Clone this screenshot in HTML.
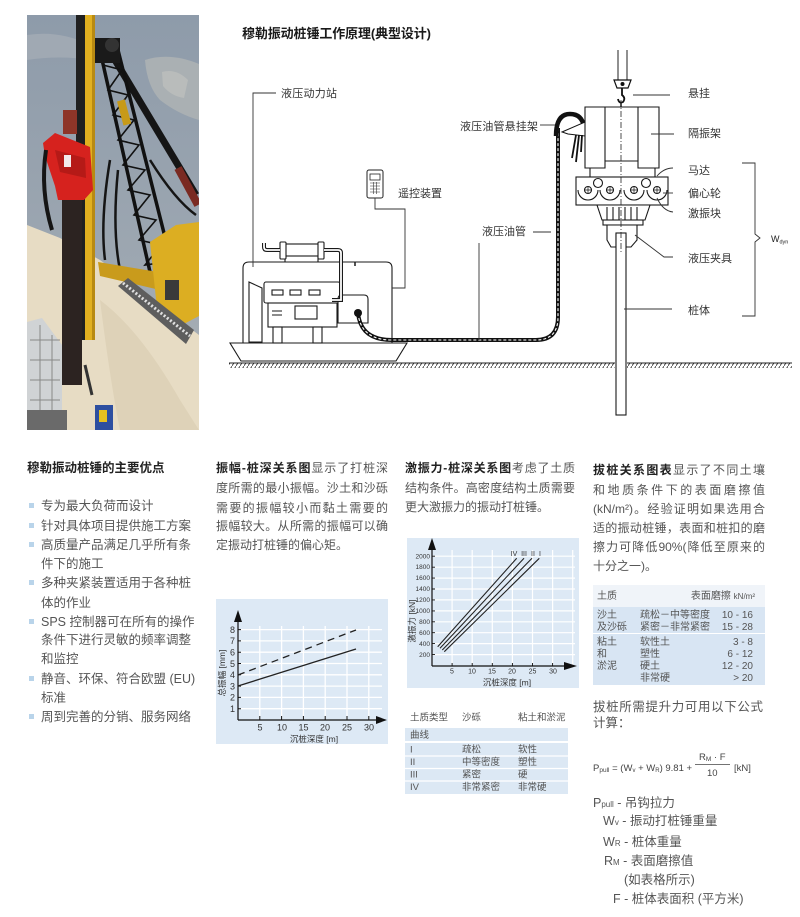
<!DOCTYPE html>
<html><head><meta charset="utf-8">
<style>
html,body{margin:0;padding:0;background:#fff;}
body{width:800px;height:917px;position:relative;overflow:hidden;font-family:"Liberation Sans","Noto Sans CJK SC",sans-serif;color:#555;}
.l{position:absolute;height:20px;line-height:20px;white-space:nowrap;}
.j{text-align:justify;text-align-last:justify;}
.p{font-size:12px;}
.b{font-size:12.5px;}
b{color:#222;}
.bul{position:absolute;width:5px;height:5px;background:#b9d4ea;left:29px;}
svg text{font-family:"Liberation Sans","Noto Sans CJK SC",sans-serif;}
</style></head><body>
<svg width="800" height="917" viewBox="0 0 800 917" style="position:absolute;left:0;top:0">
<defs>
<clipPath id="pc"><rect x="27" y="15" width="172" height="415"/></clipPath>
<linearGradient id="sky" x1="0" y1="0" x2="0" y2="1"><stop offset="0" stop-color="#8e9baa"/><stop offset="0.6" stop-color="#9da7b1"/><stop offset="1" stop-color="#aeb3b7"/></linearGradient>
<pattern id="hatch" width="4" height="6" patternUnits="userSpaceOnUse"><path d="M-1,7 L5,-1" stroke="#222" stroke-width="0.8"/></pattern>
</defs>

<!-- PHOTO -->
<g clip-path="url(#pc)">
<rect x="27" y="15" width="172" height="415" fill="url(#sky)"/>
<path d="M145,60 Q170,52 199,64 L199,120 Q178,114 160,100 Q147,86 145,60Z" fill="#aab0b3"/>
<path d="M162,72 Q176,68 188,80 L184,98 Q171,96 163,86Z" fill="#b9bcbb"/>
<path d="M27,35 Q60,30 90,45 L90,60 Q60,55 27,60Z" fill="#a0a9b3"/>
<path d="M27,225 L60,238 L100,260 L140,290 L199,335 L199,430 L27,430Z" fill="#e7dcc4"/>
<path d="M100,300 Q140,330 180,400 L199,430 L120,430 Q110,380 100,300Z" fill="#ded2b8"/>
<!-- boom backstay -->
<path d="M112,55 L196,195" stroke="#151515" stroke-width="7"/>
<path d="M178,168 L198,205" stroke="#7a2a22" stroke-width="8"/>
<!-- boom lattice -->
<path d="M101,55 L150,272 M118,50 L172,265" stroke="#111" stroke-width="3.5" fill="none"/>
<path d="M103,65 L122,70 L108,90 L128,95 L113,115 L134,120 L118,140 L139,145 L123,165 L145,170 L128,190 L150,195 L134,215 L156,220 L139,240 L161,245 L145,265 L166,262" stroke="#111" stroke-width="1.6" fill="none"/>
<rect x="95" y="38" width="25" height="25" fill="#1a1a1a"/>
<circle cx="112" cy="45" r="7" fill="#333"/>
<rect x="120" y="100" width="8" height="25" fill="#c79a18" transform="rotate(-15 124 112)"/>
<!-- hoses -->
<path d="M110,160 Q100,220 105,260 M118,170 Q112,230 120,270 M150,160 Q175,200 196,215" stroke="#151515" stroke-width="2.5" fill="none"/>
<!-- yellow crane -->
<path d="M98,262 L158,272 L160,290 L100,276Z" fill="#c99b1c"/>
<path d="M150,242 L176,225 L199,222 L199,316 L180,326 L158,318Z" fill="#dcae22"/>
<rect x="165" y="280" width="14" height="20" fill="#3a3a3a"/>
<path d="M118,286 L128,278 L194,330 L186,344Z" fill="#5e5e5e"/>
<path d="M123,283 L190,336" stroke="#e0e0e0" stroke-width="3" stroke-dasharray="2 2"/>
<!-- mast -->
<rect x="76" y="15" width="9" height="325" fill="#202020"/>
<rect x="85" y="15" width="10" height="325" fill="#e1b020"/>
<rect x="92" y="15" width="3" height="325" fill="#b88a12"/>
<!-- pile -->
<rect x="62" y="195" width="20" height="190" fill="#2c2321"/>
<!-- hammer -->
<rect x="63" y="110" width="14" height="24" fill="#8e3528"/>
<path d="M43,143 L55,133 L90,147 L93,190 L84,200 L58,200 L55,186 L45,156Z" fill="#d6221e"/>
<path d="M55,150 L85,158 L86,178 L60,172Z" fill="#b51a17"/>
<rect x="64" y="155" width="7" height="12" fill="#f3eaea"/>
<path d="M46,150 Q40,190 52,230" stroke="#151515" stroke-width="4" fill="none"/>
<!-- bottom-left structure -->
<path d="M27,322 L42,318 L62,345 L62,430 L27,430Z" fill="#d0d3d5"/>
<path d="M30,340 L60,340 M30,360 L60,360 M30,380 L60,380 M30,400 L60,400 M40,325 L40,430 M52,335 L52,430" stroke="#888" stroke-width="1"/>
<rect x="27" y="410" width="40" height="20" fill="#6a6a6a"/>
<rect x="95" y="405" width="18" height="25" fill="#2d4fa0"/>
<rect x="99" y="410" width="8" height="12" fill="#e5c020"/>
<path d="M85,365 L92,395" stroke="#333" stroke-width="3"/>
</g>

<!-- TOP DIAGRAM -->
<text x="242" y="38" font-size="13" font-weight="bold" fill="#1a1a1a" textLength="189" lengthAdjust="spacing">穆勒振动桩锤工作原理(典型设计)</text>

<!-- ground -->
<rect x="229" y="363" width="386" height="5" fill="url(#hatch)"/>
<rect x="627" y="363" width="165" height="5" fill="url(#hatch)"/>
<path d="M229,363 H615 M627,363 H792" stroke="#222" stroke-width="1"/>

<g stroke="#1a1a1a" stroke-width="1.1" fill="#fff">
<path d="M230,343 L407,343 L396,361 L241,361Z"/>
<path d="M243,343 V268 Q243,262 249,262 H386 Q392,262 392,268 V343" fill="none"/>
<path d="M285,253 V262 M318,253 V262" fill="none"/>
<rect x="285" y="244" width="34" height="12"/>
<rect x="280" y="242" width="6" height="17" rx="1"/>
<rect x="318" y="242" width="6" height="17" rx="1"/>
<path d="M249,282 L262,288 L262,342 L249,342Z"/>
<rect x="264" y="282" width="76" height="21" rx="2"/>
<rect x="272" y="290" width="11" height="5"/>
<rect x="290" y="290" width="11" height="5"/>
<rect x="309" y="290" width="11" height="5"/>
<rect x="268" y="303" width="69" height="24"/>
<rect x="295" y="306" width="22" height="13"/>
<path d="M272,311 H282 M272,315 H282" fill="none"/>
<rect x="273" y="327" width="9" height="16"/>
<rect x="313" y="327" width="9" height="16"/>
<path d="M338,323 V299 Q338,295 342,295 H364 Q368,295 368,299 V323Z"/>
</g>
<path d="M280,250 H267 Q264,250 264,247 V243" stroke="#1a1a1a" stroke-width="4" fill="none"/>
<path d="M280,250 H267 Q264,250 264,247 V243" stroke="#fff" stroke-width="1.8" fill="none"/>
<path d="M324,250 H338 Q341,250 341,253 V300 H332" stroke="#1a1a1a" stroke-width="4" fill="none"/>
<path d="M324,250 H338 Q341,250 341,253 V300 H332" stroke="#fff" stroke-width="1.8" fill="none"/>
<path d="M355,262 V266" stroke="#1a1a1a" stroke-width="1.5"/>

<!-- hose -->
<path d="M358,313 C360,332 372,340 392,340 L536,340 Q558,340 558,317 L558,128" stroke="#111" stroke-width="4" fill="none"/>
<path d="M358,313 C360,332 372,340 392,340 L536,340 Q558,340 558,317 L558,128" stroke="#fff" stroke-width="1.1" stroke-dasharray="3 2" fill="none"/>
<circle cx="358" cy="313" r="4" fill="#111"/>
<path d="M556,136 Q556,114 570,114 Q582,114 584,127" stroke="#111" stroke-width="4.5" fill="none"/>
<path d="M562,132 L585,122 L585,136 L568,134Z" fill="#fff" stroke="#111" stroke-width="1"/>
<path d="M579,135 L576,162 M582,135 L581,152 M576,135 L572,158" stroke="#111" stroke-width="1.8"/>

<!-- remote -->
<rect x="367" y="170" width="16" height="28" rx="2" fill="#fff" stroke="#222" stroke-width="1"/>
<rect x="370" y="174" width="10" height="6" fill="#fff" stroke="#222" stroke-width="0.8"/>
<path d="M370,183 H380 M370,186 H380 M370,189 H380 M370,192 H380 M373.3,182 V194 M376.6,182 V194" stroke="#333" stroke-width="0.6"/>
<path d="M375,198 V209 H405 V288 H392" stroke="#333" stroke-width="0.9" fill="none"/>

<!-- hammer -->
<path d="M618,50 V80 M627,50 V80" stroke="#222" stroke-width="1"/>
<path d="M614,80 H631 L628,88 H617Z" fill="#fff" stroke="#111" stroke-width="1.2"/>
<circle cx="622.5" cy="84" r="2" fill="#111"/>
<path d="M622,88 V95 Q626,98 623,102 Q619,104 618,99" stroke="#111" stroke-width="1.8" fill="none"/>
<path d="M621,102 L621,107" stroke="#111" stroke-width="1.5"/>
<g stroke="#1a1a1a" stroke-width="1.1" fill="#fff">
<path d="M585,107 H659 V168 H638 V161 H605 V168 H585Z"/>
<path d="M605,107 V161 M638,107 V161" fill="none"/>
<path d="M590,168 V177 M655,168 V177" fill="none"/>
<rect x="576" y="177" width="92" height="28"/>
<path d="M578,190 A10,10 0 0 0 598,190 M600,190 A10,10 0 0 0 620,190 M624,190 A10,10 0 0 0 644,190 M647,190 A10,10 0 0 0 667,190" fill="none"/>
<circle cx="588" cy="190" r="3.5"/><circle cx="610" cy="190" r="3.5"/><circle cx="634" cy="190" r="3.5"/><circle cx="657" cy="190" r="3.5"/>
<circle cx="598" cy="183" r="4.5"/><circle cx="646" cy="183" r="4.5"/>
<path d="M597,205 H650 L645,220 H602Z"/>
<path d="M607,207 V220 M613,207 V220 M619,207 V220 M625,207 V220 M631,207 V220 M637,207 V220" fill="none"/>
<rect x="603" y="220" width="40" height="5"/>
<path d="M607,225 H637 V240 L631,247 H626 V234 H616 V247 H611 L607,240Z"/>
<rect x="616" y="233" width="10" height="182"/>
</g>
<path d="M588,186.5 V193.5 M584.5,190 H591.5 M610,186.5 V193.5 M606.5,190 H613.5 M634,186.5 V193.5 M630.5,190 H637.5 M657,186.5 V193.5 M653.5,190 H660.5" stroke="#111" stroke-width="0.7"/>
<path d="M621,100 V252" stroke="#222" stroke-width="0.8" stroke-dasharray="6 2 1 2"/>

<!-- leader lines -->
<g stroke="#333" stroke-width="0.9" fill="none">
<path d="M276,93 H253 V267"/>
<path d="M540,125 H555"/>
<path d="M533,232 H551"/>
<path d="M479,243 V340"/>
<path d="M633,95 H670"/>
<path d="M651,134 H674"/>
<path d="M657,176 Q664,168 673,168"/>
<path d="M663,193 H673"/>
<path d="M657,198 Q663,211 673,212"/>
<path d="M635,235 L664,257 H673"/>
<path d="M624,309 H672"/>
<path d="M742,163 H755 V234 L760,238 L755,242 V316 H742"/>
</g>
<g font-size="11" fill="#333">
<text x="281" y="97" textLength="56" lengthAdjust="spacing">液压动力站</text>
<text x="398" y="197" textLength="44" lengthAdjust="spacing">遥控装置</text>
<text x="460" y="130" textLength="78" lengthAdjust="spacing">液压油管悬挂架</text>
<text x="482" y="235" textLength="44" lengthAdjust="spacing">液压油管</text>
<text x="688" y="97" textLength="22" lengthAdjust="spacing">悬挂</text>
<text x="688" y="137" textLength="33" lengthAdjust="spacing">隔振架</text>
<text x="688" y="174" textLength="22" lengthAdjust="spacing">马达</text>
<text x="688" y="197" textLength="33" lengthAdjust="spacing">偏心轮</text>
<text x="688" y="217" textLength="33" lengthAdjust="spacing">激振块</text>
<text x="688" y="262" textLength="44" lengthAdjust="spacing">液压夹具</text>
<text x="688" y="314" textLength="22" lengthAdjust="spacing">桩体</text>
</g>
<text x="771" y="242" font-size="9" fill="#222">W<tspan font-size="5.5" dy="1.5">dyn</tspan></text>

<!-- CHART 1 -->
<rect x="216" y="599" width="172" height="145" fill="#dde9f5"/>
<g stroke="#fff" stroke-width="1.3">
<path d="M259.8,626 V720 M281.6,626 V720 M303.4,626 V720 M325.2,626 V720 M347,626 V720 M368.8,626 V720"/>
<path d="M238,708.7 H382 M238,697.4 H382 M238,686.1 H382 M238,674.8 H382 M238,663.5 H382 M238,652.2 H382 M238,640.9 H382 M238,629.6 H382"/>
</g>
<path d="M238,720 V620 M238,720 H378" stroke="#111" stroke-width="1.2"/>
<path d="M234,622 L242,622 L238,610Z M376,716 L376,724 L387,720Z" fill="#111"/>
<path d="M238,708.7 h3 M238,697.4 h3 M238,686.1 h3 M238,674.8 h3 M238,663.5 h3 M238,652.2 h3 M238,640.9 h3 M238,629.6 h3 M259.8,720 v-4 M281.6,720 v-4 M303.4,720 v-4 M325.2,720 v-4 M347,720 v-4 M368.8,720 v-4" stroke="#111" stroke-width="1"/>
<path d="M238,686 L356,649" stroke="#222" stroke-width="1.3"/>
<path d="M238,675 L356,630" stroke="#222" stroke-width="1.3" stroke-dasharray="7 5"/>
<g font-size="9" fill="#333" text-anchor="end">
<text x="235" y="712">1</text><text x="235" y="700.7">2</text><text x="235" y="689.4">3</text><text x="235" y="678">4</text><text x="235" y="666.8">5</text><text x="235" y="655.5">6</text><text x="235" y="644.2">7</text><text x="235" y="633">8</text>
</g>
<g font-size="9" fill="#333" text-anchor="middle">
<text x="260" y="730.5">5</text><text x="282" y="730.5">10</text><text x="303.5" y="730.5">15</text><text x="325" y="730.5">20</text><text x="347" y="730.5">25</text><text x="369" y="730.5">30</text>
<text x="314" y="742" font-size="8.5">沉桩深度 [m]</text>
</g>
<text transform="translate(225,673) rotate(-90)" font-size="8.5" fill="#333" text-anchor="middle">总振幅 [mm]</text>

<!-- CHART 2 -->
<rect x="407" y="538" width="172" height="150" fill="#dde9f5"/>
<g stroke="#fff" stroke-width="1.2">
<path d="M452.1,550 V666 M472.2,550 V666 M492.3,550 V666 M512.4,550 V666 M532.5,550 V666 M552.6,550 V666 M572.7,550 V666"/>
<path d="M432,654.6 H575 M432,643.6 H575 M432,632.7 H575 M432,621.8 H575 M432,610.9 H575 M432,599.9 H575 M432,589 H575 M432,578.1 H575 M432,567.2 H575 M432,556.2 H575"/>
</g>
<path d="M432,666 V546 M432,666 H566" stroke="#111" stroke-width="1.2"/>
<path d="M428,550 L436,550 L432,538Z M564,662 L564,670 L577,666Z" fill="#111"/>
<path d="M432,654.6 h3 M432,643.6 h3 M432,632.7 h3 M432,621.8 h3 M432,610.9 h3 M432,599.9 h3 M432,589 h3 M432,578.1 h3 M432,567.2 h3 M432,556.2 h3 M452.1,666 v-3 M472.2,666 v-3 M492.3,666 v-3 M512.4,666 v-3 M532.5,666 v-3 M552.6,666 v-3" stroke="#111" stroke-width="0.9"/>
<g stroke="#222" stroke-width="1.1">
<path d="M437.7,646.7 L516.7,558.3"/>
<path d="M440,648.3 L524,558.3"/>
<path d="M442.3,650 L532,558.3"/>
<path d="M444.3,651.7 L539.3,558.3"/>
</g>
<g font-size="7" fill="#333" text-anchor="middle">
<text x="514" y="556">IV</text><text x="524" y="556">III</text><text x="533" y="556">II</text><text x="540" y="556">I</text>
</g>
<g font-size="6.5" fill="#333" text-anchor="end">
<text x="430" y="657">200</text><text x="430" y="646">400</text><text x="430" y="635">600</text><text x="430" y="624">800</text><text x="430" y="613">1000</text><text x="430" y="602">1200</text><text x="430" y="591">1400</text><text x="430" y="580">1600</text><text x="430" y="569">1800</text><text x="430" y="558.5">2000</text>
</g>
<g font-size="7" fill="#333" text-anchor="middle">
<text x="452" y="673.5">5</text><text x="472" y="673.5">10</text><text x="492" y="673.5">15</text><text x="512" y="673.5">20</text><text x="532.5" y="673.5">25</text><text x="553" y="673.5">30</text>
<text x="507" y="685.5" font-size="8.5">沉桩深度 [m]</text>
</g>
<text transform="translate(415,621) rotate(-90)" font-size="8.5" fill="#333" text-anchor="middle">激振力 [kN]</text>

<!-- TABLE col3 -->
<rect x="405" y="728" width="163" height="13" fill="#dce8f4"/>
<rect x="405" y="743" width="163" height="51" fill="#dce8f4"/>
<path d="M405,756 H568 M405,768.5 H568 M405,781 H568" stroke="#fff" stroke-width="1.2"/>
<g font-size="9.5" fill="#555">
<text x="410" y="720.5">土质类型</text><text x="462" y="720.5">沙砾</text><text x="518" y="720.5">粘土和淤泥</text>
<text x="410" y="738">曲线</text>
<text x="410" y="752.5">I</text><text x="462" y="752.5">疏松</text><text x="518" y="752.5">软性</text>
<text x="410" y="765">II</text><text x="462" y="765">中等密度</text><text x="518" y="765">塑性</text>
<text x="410" y="777.5">III</text><text x="462" y="777.5">紧密</text><text x="518" y="777.5">硬</text>
<text x="410" y="790">IV</text><text x="462" y="790">非常紧密</text><text x="518" y="790">非常硬</text>
</g>

<!-- TABLE col4 -->
<rect x="593" y="585" width="172" height="22" fill="#f0f4f9"/>
<rect x="593" y="607" width="172" height="26" fill="#d8e5f3"/>
<rect x="593" y="634" width="172" height="51" fill="#d8e5f3"/>
<g font-size="10" fill="#555">
<text x="597" y="599">土质</text>
<text x="755" y="599" text-anchor="end">表面磨擦 <tspan font-size="8">kN/m²</tspan></text>
<text x="597" y="618">沙土</text><text x="640" y="618">疏松－中等密度</text><text x="753" y="618" text-anchor="end">10 - 16</text>
<text x="597" y="630">及沙砾</text><text x="640" y="630">紧密－非常紧密</text><text x="753" y="630" text-anchor="end">15 - 28</text>
<text x="597" y="645">粘土</text><text x="640" y="645">软性土</text><text x="753" y="645" text-anchor="end">3 -  8</text>
<text x="597" y="657">和</text><text x="640" y="657">塑性</text><text x="753" y="657" text-anchor="end">6 - 12</text>
<text x="597" y="669">淤泥</text><text x="640" y="669">硬土</text><text x="753" y="669" text-anchor="end">12 - 20</text>
<text x="640" y="681">非常硬</text><text x="753" y="681" text-anchor="end">&gt; 20</text>
</g>

<!-- formula -->
<g font-size="9.5" fill="#444">
<text x="593" y="771">P<tspan font-size="6.5" dy="1">pull</tspan><tspan dy="-1"> = (W</tspan><tspan font-size="6" dy="1">v</tspan><tspan dy="-1"> + W</tspan><tspan font-size="6" dy="1">R</tspan><tspan dy="-1">) 9.81 +</tspan></text>
<text x="699" y="760">R<tspan font-size="6.5" dy="1">M</tspan><tspan dy="-1"> · F</tspan></text>
<text x="707" y="776">10</text>
<text x="734" y="771">[kN]</text>
</g>
<path d="M695,764.5 H730" stroke="#444" stroke-width="0.8"/>
</svg>

<!-- COLUMN 1 -->
<div class="l" style="left:27px;top:458px;font-size:12.5px;font-weight:bold;color:#222;">穆勒振动桩锤的主要优点</div>
<div class="bul" style="top:503px"></div>
<div class="bul" style="top:523px"></div>
<div class="bul" style="top:542px"></div>
<div class="bul" style="top:580px"></div>
<div class="bul" style="top:619px"></div>
<div class="bul" style="top:676px"></div>
<div class="bul" style="top:714px"></div>
<div class="l b" style="left:41px;top:496px">专为最大负荷而设计</div>
<div class="l b" style="left:41px;top:516px">针对具体项目提供施工方案</div>
<div class="l b" style="left:41px;top:535px">高质量产品满足几乎所有条</div>
<div class="l b" style="left:41px;top:554px">件下的施工</div>
<div class="l b" style="left:41px;top:573px">多种夹紧装置适用于各种桩</div>
<div class="l b" style="left:41px;top:593px">体的作业</div>
<div class="l b" style="left:41px;top:612px">SPS 控制器可在所有的操作</div>
<div class="l b" style="left:41px;top:630px">条件下进行灵敏的频率调整</div>
<div class="l b" style="left:41px;top:649px">和监控</div>
<div class="l b" style="left:41px;top:669px">静音、环保、符合欧盟 (EU)</div>
<div class="l b" style="left:41px;top:688px">标准</div>
<div class="l b" style="left:41px;top:707px">周到完善的分销、服务网络</div>

<!-- COLUMN 2 -->
<div class="l p j" style="left:216px;top:458px;width:172px"><b>振幅-桩深关系图</b>显示了打桩深</div>
<div class="l p j" style="left:216px;top:478px;width:172px">度所需的最小振幅。沙土和沙砾</div>
<div class="l p j" style="left:216px;top:498px;width:172px">需要的振幅较小而黏土需要的</div>
<div class="l p j" style="left:216px;top:516px;width:172px">振幅较大。从所需的振幅可以确</div>
<div class="l p" style="left:216px;top:535px">定振动打桩锤的偏心矩。</div>

<!-- COLUMN 3 -->
<div class="l p j" style="left:405px;top:458px;width:170px"><b>激振力-桩深关系图</b>考虑了土质</div>
<div class="l p j" style="left:405px;top:478px;width:170px">结构条件。高密度结构土质需要</div>
<div class="l p" style="left:405px;top:497px">更大激振力的振动打桩锤。</div>

<!-- COLUMN 4 -->
<div class="l p j" style="left:593px;top:460px;width:172px"><b>拔桩关系图表</b>显示了不同土壤</div>
<div class="l p j" style="left:593px;top:480px;width:172px">和地质条件下的表面磨擦值</div>
<div class="l p j" style="left:593px;top:499px;width:172px">(kN/m²)。经验证明如果选用合</div>
<div class="l p j" style="left:593px;top:518px;width:172px">适的振动桩锤，表面和桩扣的磨</div>
<div class="l p j" style="left:593px;top:537px;width:172px">擦力可降低90%(降低至原来的</div>
<div class="l p" style="left:593px;top:556px">十分之一)。</div>

<div class="l j" style="left:593px;top:697px;width:170px;font-size:12.5px">拔桩所需提升力可用以下公式</div>
<div class="l" style="left:593px;top:713px;font-size:12.5px">计算：</div>

<div class="l" style="left:593px;top:793px;font-size:12.5px">P<span style="font-size:8px">pull</span> - 吊钩拉力</div>
<div class="l" style="left:603px;top:811px;font-size:12.5px">W<span style="font-size:8px">v</span> - 振动打桩锤重量</div>
<div class="l" style="left:603px;top:832px;font-size:12.5px">W<span style="font-size:8px">R</span> - 桩体重量</div>
<div class="l" style="left:604px;top:851px;font-size:12.5px">R<span style="font-size:8px">M</span> - 表面磨擦值</div>
<div class="l" style="left:624px;top:870px;font-size:12.5px">(如表格所示)</div>
<div class="l" style="left:613px;top:889px;font-size:12.5px">F - 桩体表面积 (平方米)</div>
</body></html>
